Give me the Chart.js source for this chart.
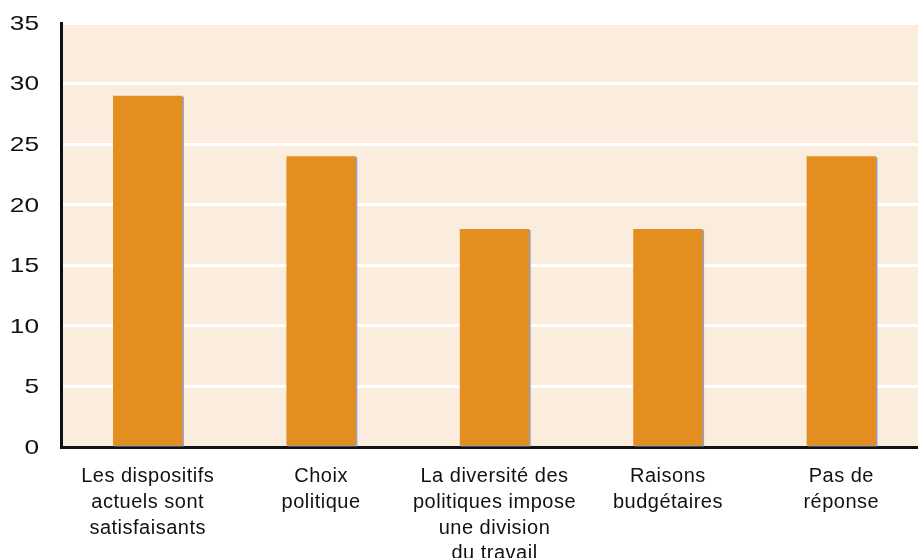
<!DOCTYPE html>
<html>
<head>
<meta charset="utf-8">
<script src="https://cdn.jsdelivr.net/npm/chart.js@4/dist/chart.umd.min.js"></script>
<style>
  html, body { margin: 0; padding: 0; background: #ffffff; overflow: hidden; }
  #wrap { width: 928px; height: 558px; position: relative; }
</style>
</head>
<body>
<div id="wrap"><canvas id="c" width="928" height="558"></canvas></div>
<script>
// Réponses (en %)
const categories = [
  ["Les dispositifs", "actuels sont", "satisfaisants"],
  ["Choix", "politique"],
  ["La diversité des", "politiques impose", "une division", "du travail"],
  ["Raisons", "budgétaires"],
  ["Pas de", "réponse"]
];
const values = [29, 24, 18, 18, 24];
const yTicks = [0, 5, 10, 15, 20, 25, 30, 35];

const FONT = '"Liberation Sans", Arial, Helvetica, sans-serif';

// Beige plot background behind the grid
const plotBackground = {
  id: 'plotBackground',
  beforeDraw(chart) {
    const { ctx, chartArea: a } = chart;
    ctx.save();
    ctx.fillStyle = '#faeddd';
    ctx.fillRect(a.left, a.top, a.right - a.left, a.bottom - a.top);
    ctx.restore();
    // slightly looser tracking for the category labels
    ctx.letterSpacing = '0.5px';
  }
};

// Thin bluish drop edge on each bar
const barShadow = {
  id: 'barShadow',
  beforeDatasetsDraw(chart) {
    const ctx = chart.ctx;
    ctx.save();
    ctx.shadowColor = 'rgba(140,150,190,0.9)';
    ctx.shadowOffsetX = 1.5;
    ctx.shadowOffsetY = 1;
    ctx.shadowBlur = 0;
  },
  afterDatasetsDraw(chart) {
    chart.ctx.restore();
  }
};

// Wide value labels on the y axis, placed by the y scale
const wideYLabels = {
  id: 'wideYLabels',
  afterDraw(chart) {
    const { ctx } = chart;
    const y = chart.scales.y;
    ctx.save();
    ctx.letterSpacing = '0px';
    ctx.font = '21px ' + FONT;
    ctx.fillStyle = '#111111';
    ctx.textAlign = 'right';
    ctx.textBaseline = 'middle';
    y.ticks.forEach(t => {
      const py = y.getPixelForValue(t.value);
      ctx.save();
      ctx.translate(39, py + 1);
      ctx.scale(1.25, 1);
      ctx.fillText(String(t.value), 0, 0);
      ctx.restore();
    });
    ctx.restore();
  }
};

new Chart(document.getElementById('c'), {
  type: 'bar',
  data: {
    labels: categories,
    datasets: [{
      data: values,
      backgroundColor: '#e48e1f',
      borderWidth: 0,
      barPercentage: 0.4,
      categoryPercentage: 1.0
    }]
  },
  options: {
    responsive: false,
    animation: false,
    events: [],
    layout: { padding: { top: 23, left: 0, right: 0, bottom: 0 } },
    plugins: {
      legend: { display: false },
      tooltip: { enabled: false }
    },
    scales: {
      y: {
        min: 0,
        max: 35,
        afterBuildTicks(scale) {
          scale.ticks = yTicks.map(v => ({ value: v }));
        },
        afterFit(scale) { scale.width = 61; },
        grid: {
          color: '#ffffff',
          lineWidth: 3,
          drawTicks: false
        },
        border: { display: true, color: '#111111', width: 3 },
        ticks: {
          display: false,
          font: { family: FONT, size: 21 }
        }
      },
      x: {
        afterFit(scale) { scale.height = 111; },
        grid: { display: false, drawTicks: false },
        border: { display: true, color: '#111111', width: 3 },
        ticks: {
          color: '#111111',
          font: { family: FONT, size: 20, lineHeight: 1.28 },
          padding: 17,
          maxRotation: 0,
          autoSkip: false
        }
      }
    }
  },
  plugins: [plotBackground, barShadow, wideYLabels]
});
</script>
</body>
</html>
